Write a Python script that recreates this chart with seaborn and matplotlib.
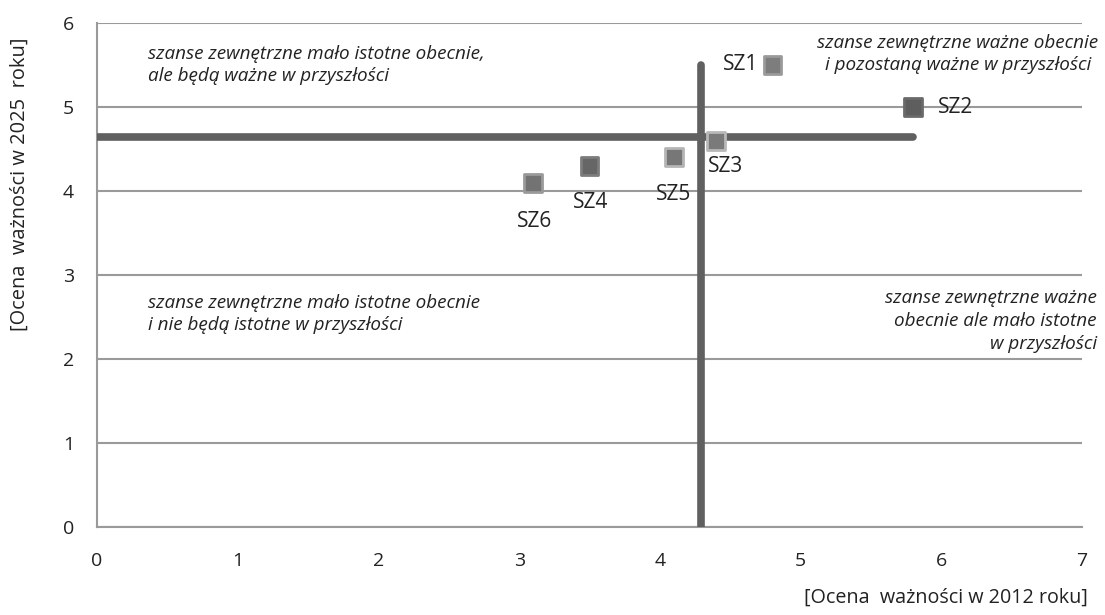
import numpy as np
import pandas as pd
import matplotlib
matplotlib.use("Agg")
import matplotlib.pyplot as plt
import seaborn as sns

# data
labels = ["SZ1", "SZ2", "SZ3", "SZ4", "SZ5", "SZ6"]
x_2012 = [4.8, 5.8, 4.4, 3.5, 4.1, 3.1]
y_2025 = [5.5, 5.0, 4.6, 4.3, 4.4, 4.1]
face_colors = ["#7d7d7d", "#5e5e5e", "#7a7a7a", "#666666", "#777777", "#737373"]
edge_colors = ["#9a9a9a", "#6a6a6a", "#b8b8b8", "#7c7c7c", "#b5b5b5", "#9a9a9a"]

# dividing lines (mean scores)
h_line_y = 4.64
h_line_x = [0.0, 5.8]
v_line_x = 4.29
v_line_y = [0.0, 5.5]

sns.set_style("white")
plt.rcParams["font.family"] = ["Open Sans", "DejaVu Sans"]

df = pd.DataFrame({"label": labels, "x": x_2012, "y": y_2025})

fig = plt.figure(figsize=(11.05, 6.15), dpi=100)
ax = fig.add_axes([97 / 1105, 1 - 527 / 615, 985 / 1105, 504 / 615])

ax.set_xlim(0, 7)
ax.set_ylim(0, 6)
ax.set_yticks(range(0, 7))
ax.set_xticks(range(0, 8))
ax.yaxis.grid(True, color="#9a9a9a", linewidth=1.5)
ax.set_axisbelow(True)
sns.despine(ax=ax, top=True, right=True)
for s in ["left", "bottom"]:
    ax.spines[s].set_color("#9a9a9a")
    ax.spines[s].set_linewidth(1.5)
ax.tick_params(axis="x", length=6, width=1.5, labelsize=14, pad=12,
               color="#9a9a9a", labelcolor="#222222")
ax.tick_params(axis="y", length=4.5, width=1.5, labelsize=14, pad=12,
               color="#9a9a9a", labelcolor="#222222")

ax.plot(h_line_x, [h_line_y, h_line_y], color="#606060", linewidth=5.5,
        solid_capstyle="round", zorder=3)
ax.plot([v_line_x, v_line_x], v_line_y, color="#606060", linewidth=5.5,
        solid_capstyle="round", zorder=3)

sns.scatterplot(data=df, x="x", y="y", ax=ax, marker="s", s=165,
                c=face_colors, edgecolor=edge_colors, linewidth=2,
                zorder=4, legend=False)

# label offsets in points (dx, dy, ha)
offsets = {"SZ1": (-10, 0, "right"),
           "SZ2": (18, -0.7, "left"),
           "SZ3": (6.5, -18.7, "center"),
           "SZ4": (0.5, -26.6, "center"),
           "SZ5": (0, -27, "center"),
           "SZ6": (1, -28.3, "center")}
for lab, xv, yv in zip(labels, x_2012, y_2025):
    dx, dy, ha = offsets[lab]
    ax.annotate(lab, (xv, yv), xytext=(dx, dy), textcoords="offset points",
                ha=ha, va="center", fontsize=15, color="#222222")

ax.set_xlabel("")
ax.set_ylabel("")

txt = dict(fontsize=13.6, style="italic", color="#222222")
fig.text(148 / 1105, 1 - 65 / 615, "szanse zewnętrzne mało istotne obecnie,\nale będą ważne w przyszłości",
         ha="left", va="center", linespacing=1.33, **txt)
fig.text(958 / 1105, 1 - 54 / 615, "szanse zewnętrzne ważne obecnie\ni pozostaną ważne w przyszłości",
         ha="center", va="center", multialignment="center", linespacing=1.28, **txt)
fig.text(148 / 1105, 1 - 314 / 615, "szanse zewnętrzne mało istotne obecnie\ni nie będą istotne w przyszłości",
         ha="left", va="center", linespacing=1.28, **txt)
fig.text(1097 / 1105, 1 - 321 / 615, "szanse zewnętrzne ważne\nobecnie ale mało istotne\nw przyszłości",
         ha="right", va="center", multialignment="right", linespacing=1.33, **txt)

fig.text(20 / 1105, 1 - 184 / 615, "[Ocena  ważności w 2025  roku]", rotation=90,
         ha="center", va="center", fontsize=14.4, color="#222222")
fig.text(1088 / 1105, 1 - 598 / 615, "[Ocena  ważności w 2012 roku]",
         ha="right", va="center", fontsize=14.2, color="#222222")

fig.savefig("out.png", dpi=100)
